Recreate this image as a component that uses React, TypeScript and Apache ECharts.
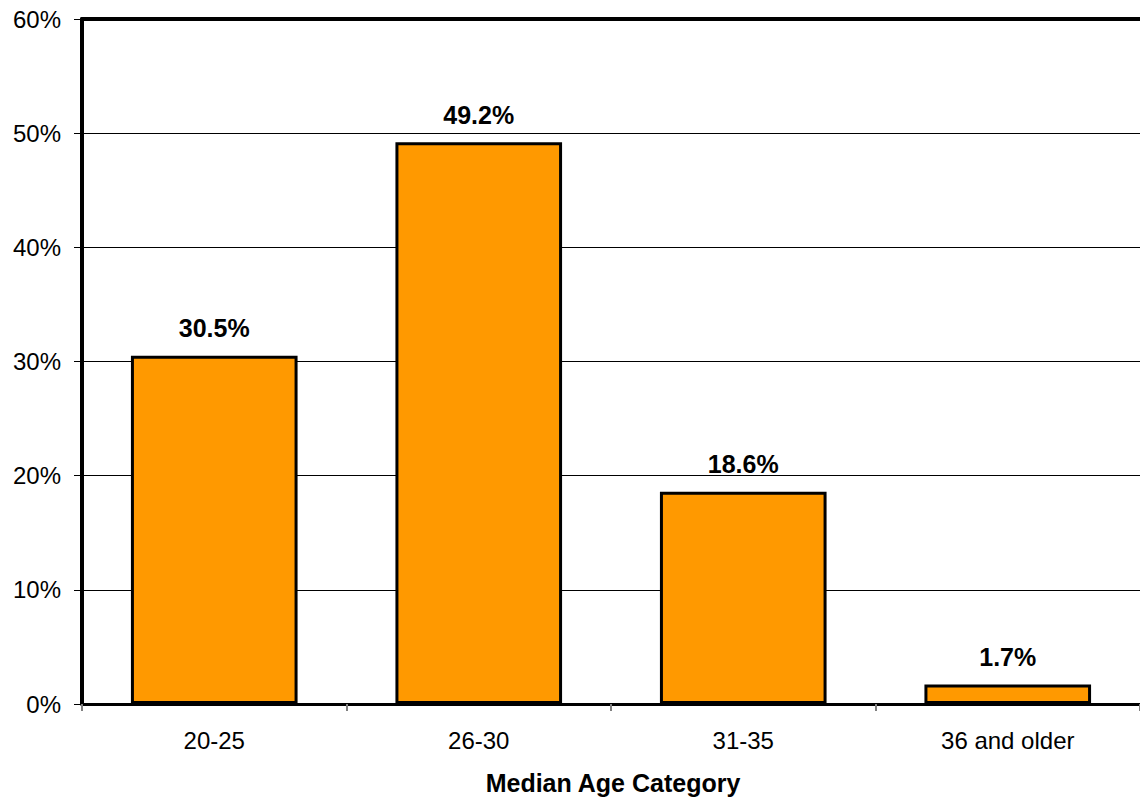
import React, { useEffect, useRef } from "react";
import * as echarts from "echarts";

const categories = ["20-25", "26-30", "31-35", "36 and older"];
const values = [30.5, 49.2, 18.6, 1.7];
const axisName = "Median Age Category";

export default function App() {
  const ref = useRef<HTMLDivElement>(null);
  useEffect(() => {
    if (!ref.current) return;
    const chart = echarts.init(ref.current, null, { renderer: "svg" });
    const font = "Liberation Sans, Arial, sans-serif";
    chart.setOption({
      animation: false,
      backgroundColor: "#ffffff",
      grid: { left: 82, top: 19, width: 1065, height: 685, containLabel: false },
      xAxis: [
        {
          type: "category",
          data: categories,
          position: "bottom",
          axisLine: { lineStyle: { color: "#000", width: 3 } },
          axisTick: { show: true, length: 7, alignWithLabel: false, lineStyle: { color: "#808080", width: 2 } },
          axisLabel: { color: "#000", fontSize: 24, fontFamily: font, margin: 24 },
          z: 5,
        },
        {
          type: "category",
          data: categories,
          position: "top",
          axisLine: { lineStyle: { color: "#000", width: 4 } },
          axisTick: { show: false },
          axisLabel: { show: false },
        },
      ],
      yAxis: {
        type: "value",
        min: 0,
        max: 60,
        interval: 10,
        axisLine: { show: true, lineStyle: { color: "#000", width: 4 } },
        axisTick: { show: true, length: 8, lineStyle: { color: "#000", width: 1 } },
        axisLabel: { color: "#000", fontSize: 24, fontFamily: font, margin: 21, formatter: "{value}%" },
        splitLine: { show: true, lineStyle: { color: "#000", width: 1 } },
      },
      series: [
        {
          type: "bar",
          data: values,
          barWidth: "63%",
          itemStyle: { color: "#FF9900", borderColor: "#000", borderWidth: 3 },
          label: {
            show: true,
            position: "top",
            distance: 15,
            formatter: (p: any) => p.value.toFixed(1) + "%",
            color: "#000",
            fontSize: 25,
            fontWeight: "bold",
            fontFamily: font,
          },
        },
      ],
      graphic: [
        {
          type: "text",
          x: 613,
          y: 783,
          style: {
            text: axisName,
            font: "bold 25px Liberation Sans, Arial, sans-serif",
            fill: "#000",
            align: "center",
            verticalAlign: "middle",
          },
        },
      ],
    });
    return () => chart.dispose();
  }, []);
  return (
    <div
      ref={ref}
      style={{ position: "absolute", left: 0, top: 0, width: 1140, height: 804 }}
    />
  );
}
